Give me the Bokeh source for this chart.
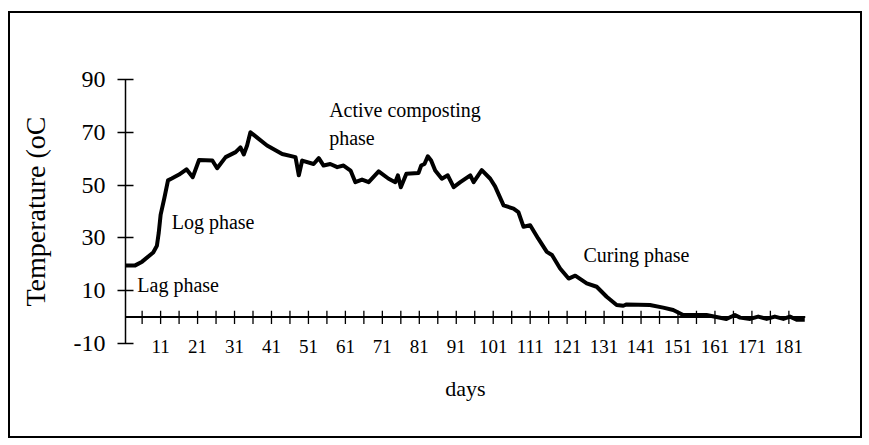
from bokeh.plotting import figure
from bokeh.models import FixedTicker, Span, Label, Range1d
from bokeh.embed import file_html
from bokeh.resources import INLINE

# ---- data ----
days = [1, 4, 6, 9, 10, 10.5, 11, 12, 13, 14, 16, 18, 19.7, 21.4, 25, 26.3, 28.6, 31.3,
        32.6, 33.5, 34.4, 35.3, 36.2, 39.8, 43.9, 47.5, 48.4, 49.3, 52.4, 53.8, 55.1,
        56.9, 58.8, 60.5, 62.4, 63.7, 65.5, 67.3, 70, 72.7, 74.5, 75.2, 76, 77.5, 80.8,
        81.5, 82.4, 83.3, 84.2, 85.3, 87.1, 88.7, 90.3, 92.1, 94.8, 95.7, 97.9, 100.2,
        101.5, 103.8, 106.5, 107.8, 109.2, 111, 113.2, 115.5, 116.9, 119.1, 121.4,
        123.2, 126.3, 129, 131.7, 134.4, 136.2, 137.1, 143.4, 147, 149.7, 152.4, 158.7,
        164.1, 166.4, 167.8, 170.5, 172.7, 175, 177.2, 179.5, 181.3, 183.1, 185.3]
temps = [19.5, 19.5, 21, 24.5, 27, 32, 38.7, 45, 51.8, 52.5, 54, 56, 53, 59.5, 59.3, 56.4,
         60.6, 62.5, 64.3, 61.6, 65, 70, 69, 65, 61.8, 60.6, 53.7, 59.3, 58, 60.2, 57.4,
         58, 56.8, 57.4, 55.5, 51.1, 52.1, 51.1, 55.2, 52.4, 51.1, 53.7, 49.2, 54.3, 54.6,
         57.4, 58, 60.9, 59.3, 55.5, 52.4, 53.7, 49.2, 51.1, 53.7, 51.1, 55.7, 52.4,
         49.5, 42.3, 41.1, 39.8, 34.2, 34.8, 29.7, 24.7, 23.5, 18.4, 14.6, 15.7, 12.8,
         11.5, 7.7, 4.6, 4.3, 4.8, 4.6, 3.6, 2.7, 0.8, 0.8, -0.7, 0.8, -0.2, -0.7, 0.2,
         -0.7, 0.2, -0.7, 0.2, -1, -1]

y_ticks = [-10, 10, 30, 50, 70, 90]
x_label_ticks = list(range(11, 182, 10))
x_minor_ticks = list(range(6, 182, 5))

phase_texts = ["Active composting", "phase", "Log phase", "Lag phase", "Curing phase"]
phase_x = [56.6, 56.6, 14.0, 4.7, 125.4]
phase_y = [78.3, 67.8, 35.9, 12.0, 23.6]

FONT = "Liberation Serif"

p = figure(width=850, height=423, output_backend="svg", toolbar_location=None,
           x_range=Range1d(1.5, 185.5), y_range=Range1d(-10, 90),
           min_border_left=115, min_border_right=59, min_border_top=66,
           min_border_bottom=97,
           margin=(11, 0, 0, 8),
           styles={"border": "2px solid black", "box-sizing": "content-box"})
p.grid.visible = False
p.outline_line_color = None
p.background_fill_color = "white"
p.border_fill_color = "white"

# y axis
ya = p.yaxis[0]
ya.ticker = FixedTicker(ticks=y_ticks)
ya.major_label_overrides = {-10: "-10"}
ya.minor_tick_line_color = None
ya.major_tick_in = 8
ya.major_tick_out = 8
ya.major_tick_line_width = 1.5
ya.axis_line_width = 1.5
ya.major_label_standoff = 12
ya.major_label_text_font = FONT
ya.major_label_text_font_size = "24px"
ya.major_label_text_color = "black"
ya.axis_label = "Temperature (oC"
ya.axis_label_text_font = FONT
ya.axis_label_text_font_size = "28px"
ya.axis_label_text_font_style = "normal"
ya.axis_label_text_color = "black"
ya.axis_label_standoff = 20

# x axis (labels only at bottom)
xa = p.xaxis[0]
xa.ticker = FixedTicker(ticks=x_label_ticks)
xa.axis_line_color = None
xa.major_tick_line_color = None
xa.minor_tick_line_color = None
xa.major_tick_out = 0
xa.major_tick_in = 0
xa.major_label_standoff = -4
xa.major_label_text_font = FONT
xa.major_label_text_font_size = "19px"
xa.major_label_text_color = "black"
xa.axis_label = "days"
xa.axis_label_text_font = FONT
xa.axis_label_text_font_size = "22px"
xa.axis_label_text_font_style = "normal"
xa.axis_label_text_color = "black"
xa.axis_label_standoff = 20

# axis line at y = 0 with tick marks
p.add_layout(Span(location=0, dimension="width", line_color="black", line_width=2))
p.segment(x0=x_minor_ticks, x1=x_minor_ticks, y0=[-2.6] * len(x_minor_ticks),
          y1=[2.4] * len(x_minor_ticks), line_color="black", line_width=1.3)

# data line
p.line(days, temps, line_color="black", line_width=4, line_join="round")

for t, x, y in zip(phase_texts, phase_x, phase_y):
    p.add_layout(Label(x=x, y=y, text=t, text_font=FONT, text_font_size="20px",
                       text_color="black", text_baseline="alphabetic"))

open("out.html", "w").write(file_html(p, INLINE))
